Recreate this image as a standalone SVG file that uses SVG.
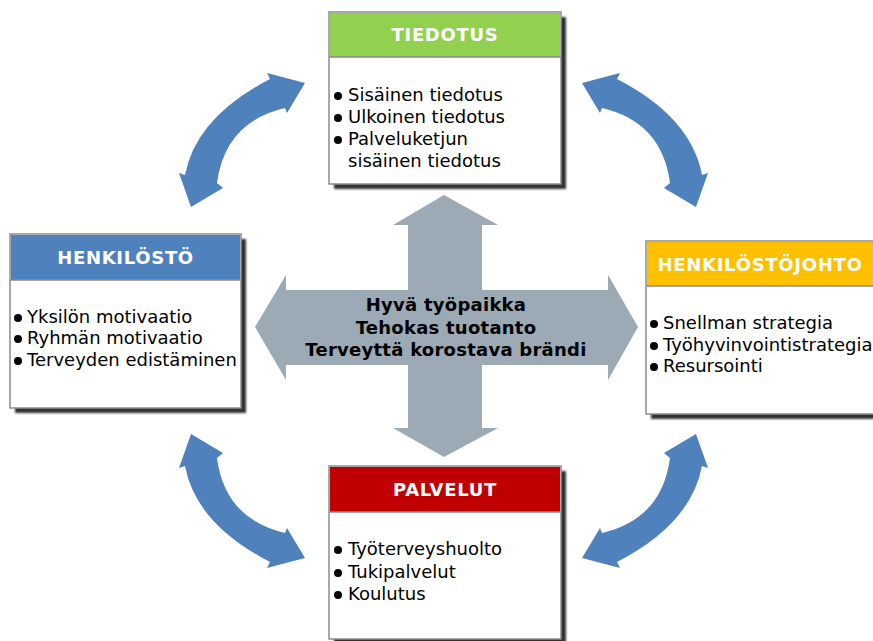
<svg xmlns="http://www.w3.org/2000/svg" width="873" height="641" viewBox="0 0 873 641">
<defs>
<style>
.box{fill:#fff;stroke:#8c8c8c;stroke-width:1.5}
.shadow{fill:#333;filter:url(#blur)}
.sep{stroke:#8c8c8c;stroke-width:1.5}
.hd{font-family:"DejaVu Sans",Verdana,sans-serif;font-weight:bold;font-size:18px;fill:#fff;text-anchor:middle;letter-spacing:0.7px}
.tx{font-family:"DejaVu Sans",Verdana,sans-serif;font-size:18px;fill:#000}
.ct{font-family:"DejaVu Sans",Verdana,sans-serif;font-weight:bold;font-size:18px;fill:#000;text-anchor:middle;letter-spacing:0.25px}
.cv{fill:#4F81BD}
.bl{fill:#000}
</style>
<filter id="blur" x="-10%" y="-10%" width="120%" height="120%"><feGaussianBlur stdDeviation="1.2"/></filter>
<path id="carc" d="M305,83 L287,113 L285,108 Q225,122 217,183 L223,188 L191,207 L179,173 L185,175 Q196,117 270,79 L267,73 Z"/>
</defs>
<g id="connectors">
<use href="#carc" class="cv"/>
<use href="#carc" class="cv" transform="translate(887,0) scale(-1,1)"/>
<use href="#carc" class="cv" transform="translate(0,641) scale(1,-1)"/>
<use href="#carc" class="cv" transform="translate(887,641) scale(-1,-1)"/>
</g>
<g id="center">
<path fill="#9BAAB4" d="M444,195 L498,225 L482,225 L482,290 L608,290 L608,275 L638,327 L608,380 L608,365 L482,365 L482,428 L498,428 L444,457 L393,428 L408,428 L408,365 L286,365 L286,380 L255,327 L286,275 L286,290 L408,290 L408,225 L393,225 Z"/>
<text class="ct" x="446" y="311">Hyvä työpaikka</text>
<text class="ct" x="446" y="334">Tehokas tuotanto</text>
<text class="ct" x="446" y="356">Terveyttä korostava brändi</text>
</g>
<g id="tiedotus">
<rect class="shadow" x="334" y="17" width="232" height="172"/>
<rect class="box" x="329" y="12" width="232" height="172"/>
<rect x="330" y="13" width="230" height="44" fill="#92D050"/>
<line class="sep" x1="329" y1="57" x2="561" y2="57"/>
<text class="hd" x="445" y="41">TIEDOTUS</text>
<circle class="bl" cx="338" cy="96" r="4"/>
<circle class="bl" cx="338" cy="118" r="4"/>
<circle class="bl" cx="338" cy="140" r="4"/>
<text class="tx" x="348" y="101">Sisäinen tiedotus</text>
<text class="tx" x="348" y="123">Ulkoinen tiedotus</text>
<text class="tx" x="348" y="145">Palveluketjun</text>
<text class="tx" x="348" y="167">sisäinen tiedotus</text>
</g>
<g id="henkilosto">
<rect class="shadow" x="15" y="239" width="231" height="174"/>
<rect class="box" x="10" y="234" width="231" height="174"/>
<rect x="11" y="235" width="229" height="45" fill="#4F81BD"/>
<line class="sep" x1="10" y1="280" x2="241" y2="280"/>
<text class="hd" x="125.5" y="264">HENKILÖSTÖ</text>
<circle class="bl" cx="18" cy="318" r="4"/>
<circle class="bl" cx="18" cy="339" r="4"/>
<circle class="bl" cx="18" cy="361" r="4"/>
<text class="tx" x="27" y="323">Yksilön motivaatio</text>
<text class="tx" x="27" y="344">Ryhmän motivaatio</text>
<text class="tx" x="27" y="366">Terveyden edistäminen</text>
</g>
<g id="henkilostojohto">
<rect class="shadow" x="651" y="246" width="232" height="173"/>
<rect class="box" x="646" y="241" width="232" height="173"/>
<rect x="647" y="242" width="230" height="44" fill="#FFC000"/>
<line class="sep" x1="646" y1="286" x2="878" y2="286"/>
<text class="hd" x="760" y="271">HENKILÖSTÖJOHTO</text>
<circle class="bl" cx="654" cy="324" r="4"/>
<circle class="bl" cx="654" cy="346" r="4"/>
<circle class="bl" cx="654" cy="367" r="4"/>
<text class="tx" x="663" y="329">Snellman strategia</text>
<text class="tx" x="663" y="351">Työhyvinvointistrategia</text>
<text class="tx" x="663" y="372">Resursointi</text>
</g>
<g id="palvelut">
<rect class="shadow" x="334" y="471" width="232" height="173"/>
<rect class="box" x="329" y="466" width="232" height="173"/>
<rect x="330" y="467" width="230" height="45" fill="#C00000"/>
<line class="sep" x1="329" y1="512" x2="561" y2="512"/>
<text class="hd" x="445" y="496">PALVELUT</text>
<circle class="bl" cx="338" cy="550" r="4"/>
<circle class="bl" cx="338" cy="573" r="4"/>
<circle class="bl" cx="338" cy="595" r="4"/>
<text class="tx" x="348" y="555">Työterveyshuolto</text>
<text class="tx" x="348" y="578">Tukipalvelut</text>
<text class="tx" x="348" y="600">Koulutus</text>
</g>
</svg>
